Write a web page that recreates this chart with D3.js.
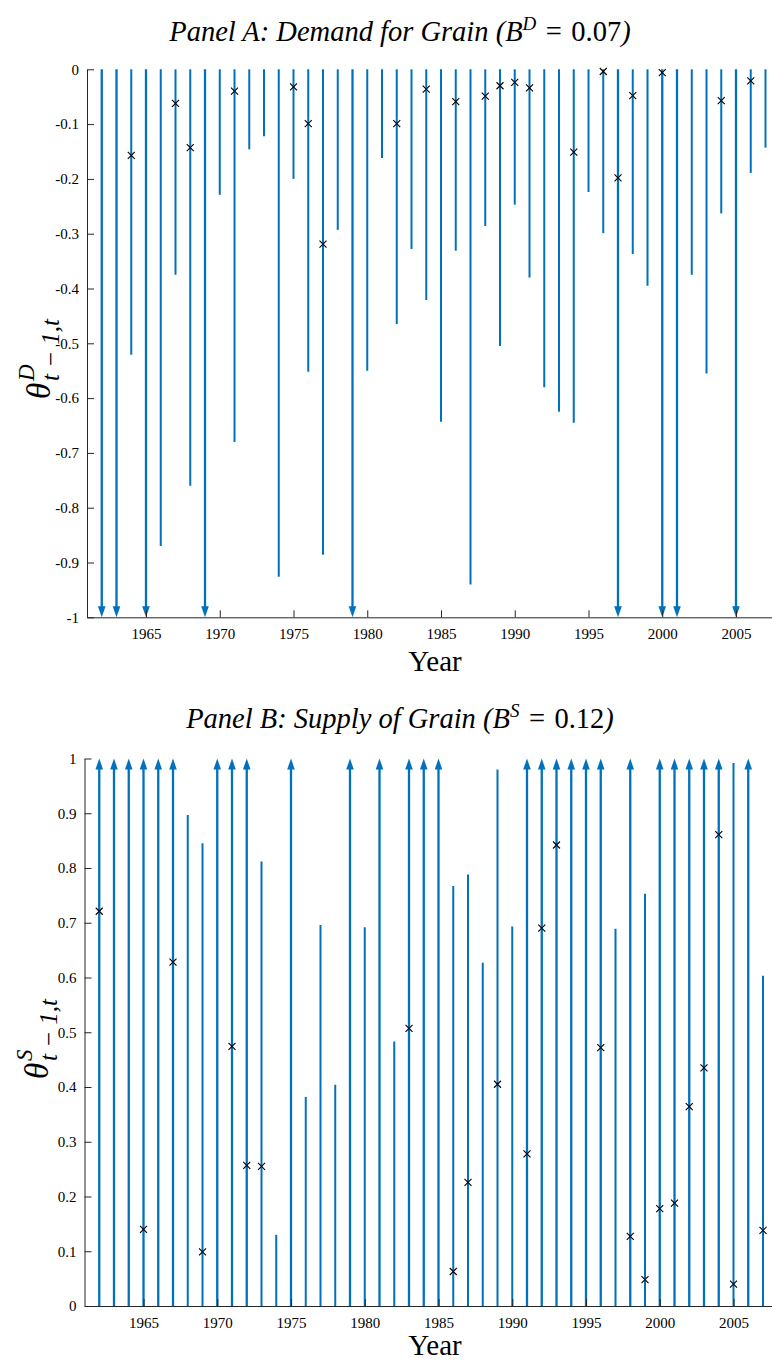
<!DOCTYPE html>
<html>
<head>
<meta charset="utf-8">
<script src="https://cdn.jsdelivr.net/npm/d3@7"></script>
<style>
  body { margin: 0; background: #fff; }
  text { font-family: "Liberation Serif", "Times New Roman", serif; fill: #000; }
</style>
</head>
<body>
<script>
// years on the x axis
const years = [1962, 1963, 1964, 1965, 1966, 1967, 1968, 1969, 1970, 1971,
               1972, 1973, 1974, 1975, 1976, 1977, 1978, 1979, 1980, 1981,
               1982, 1983, 1984, 1985, 1986, 1987, 1988, 1989, 1990, 1991,
               1992, 1993, 1994, 1995, 1996, 1997, 1998, 1999, 2000, 2001,
               2002, 2003, 2004, 2005, 2006, 2007];

// panel A: lower end of each demand interval (-1 = runs off the axis, drawn as arrow)
const demandLow = [-1, -1, -0.521, -1, -0.87, -0.375, -0.76, -1, -0.229, -0.68,
                   -0.146, -0.122, -0.926, -0.2, -0.552, -0.886, -0.293, -1, -0.55, -0.162,
                   -0.465, -0.328, -0.421, -0.643, -0.331, -0.94, -0.286, -0.505, -0.247, -0.38,
                   -0.58, -0.625, -0.645, -0.224, -0.299, -1, -0.337, -0.395, -1, -1,
                   -0.375, -0.555, -0.263, -1, -0.189, -0.143];
// panel A: point estimates (x markers)
const demandEstYears = [1964, 1967, 1968, 1971, 1975, 1976, 1977, 1982, 1984, 1986, 1988,
                        1989, 1990, 1991, 1994, 1996, 1997, 1998, 2000, 2004, 2006];
const demandEst = [-0.157, -0.062, -0.143, -0.040, -0.032, -0.099, -0.319, -0.099, -0.036, -0.059, -0.049,
                   -0.030, -0.024, -0.034, -0.151, -0.004, -0.198, -0.048, -0.006, -0.057, -0.021];

// panel B: upper end of each supply interval (1 = arrow)
const supplyHigh = [1, 1, 1, 1, 1, 1, 0.897, 0.845, 1, 1,
                    1, 0.812, 0.13, 1, 0.382, 0.696, 0.404, 1, 0.692, 1,
                    0.483, 1, 1, 1, 0.767, 0.788, 0.627, 0.98, 0.693, 1,
                    1, 1, 1, 1, 1, 0.689, 1, 0.753, 1, 1,
                    1, 1, 1, 0.992, 1, 0.603];
const supplyEstYears = [1962, 1965, 1967, 1969, 1971, 1972, 1973, 1983, 1986, 1987, 1989, 1991,
                        1992, 1993, 1996, 1998, 1999, 2000, 2001, 2002, 2003, 2004, 2005, 2007];
const supplyEst = [0.721, 0.140, 0.628, 0.099, 0.474, 0.257, 0.255, 0.507, 0.063, 0.226, 0.405, 0.278,
                   0.690, 0.842, 0.472, 0.127, 0.048, 0.178, 0.188, 0.364, 0.435, 0.861, 0.040, 0.138];

const yearTicks = [1965, 1970, 1975, 1980, 1985, 1990, 1995, 2000, 2005];
const demandTicks = [0, -0.1, -0.2, -0.3, -0.4, -0.5, -0.6, -0.7, -0.8, -0.9, -1];
const supplyTicks = [0, 0.1, 0.2, 0.3, 0.4, 0.5, 0.6, 0.7, 0.8, 0.9, 1];

const blue = "#0072BD";
const axisColor = "#262626";

const svg = d3.select("body").append("svg")
    .attr("width", 772)
    .attr("height", 1361);

function drawPanel(p) {
  const g = svg.append("g");
  const x = d3.scaleLinear().domain([1961, 2008]).range([p.left, p.left + 47 * 14.75]);
  const y = d3.scaleLinear().domain(p.yDomain).range(p.yRange);
  const dir = p.sign; // -1: arrows point down, 1: arrows point up
  const headLen = 11;

  // intervals
  years.forEach(function(yr, i) {
    const v = p.bounds[i];
    const hitsEdge = Math.abs(v) >= 1;
    const xx = x(yr);
    const yEnd = y(v);
    g.append("line")
      .attr("x1", xx).attr("x2", xx)
      .attr("y1", y(0))
      .attr("y2", hitsEdge ? yEnd + dir * (headLen - 2) : yEnd)
      .attr("stroke", blue)
      .attr("stroke-width", hitsEdge ? 2.3 : 2);
    if (hitsEdge) {
      g.append("path")
        .attr("d", "M" + xx + "," + yEnd +
                   "L" + (xx - 3.8) + "," + (yEnd + dir * headLen) +
                   "L" + (xx + 3.8) + "," + (yEnd + dir * headLen) + "Z")
        .attr("fill", blue);
    }
  });

  // point estimates
  g.selectAll(".est")
    .data(p.estYears)
    .enter().append("path")
    .attr("class", "est")
    .attr("transform", function(d, i) { return "translate(" + x(d) + "," + y(p.est[i]) + ")"; })
    .attr("d", "M-3.5,-3.5L3.5,3.5M-3.5,3.5L3.5,-3.5")
    .attr("stroke", "#000")
    .attr("stroke-width", 1.1);

  // axes
  const xAxis = d3.axisBottom(x).tickValues(yearTicks).tickFormat(d3.format("d"))
    .tickSize(-7).tickSizeOuter(0).tickPadding(11);
  const gx = g.append("g").attr("transform", "translate(0," + p.yRange[0] + ")").call(xAxis);

  const yAxis = d3.axisLeft(y).tickValues(p.ticks)
    .tickFormat(function(d) { return d === 0 ? "0" : String(d); })
    .tickSize(-7).tickSizeOuter(0).tickPadding(8);
  const gy = g.append("g").attr("transform", "translate(" + p.left + ",0)").call(yAxis);

  [gx, gy].forEach(function(a) {
    a.select(".domain").attr("stroke", axisColor);
    a.selectAll(".tick line").attr("stroke", axisColor);
    a.selectAll(".tick text")
      .style("font-family", "'Liberation Serif', 'Times New Roman', serif")
      .style("font-size", "15px")
      .attr("fill", "#1a1a1a");
  });

  // title
  const t = g.append("text")
    .attr("x", 400).attr("y", p.titleY)
    .attr("text-anchor", "middle")
    .style("font-size", "28.5px");
  t.append("tspan").style("font-style", "italic").text(p.titleText + " (B");
  t.append("tspan").style("font-style", "italic").style("font-size", "19px")
    .attr("dy", -11).text(p.sup);
  t.append("tspan").attr("dy", 11).text("\u2004=\u2004" + p.param);
  t.append("tspan").style("font-style", "italic").text(")");

  // x label
  g.append("text")
    .attr("x", 435).attr("y", p.yearY)
    .attr("text-anchor", "middle")
    .style("font-size", "29px")
    .text("Year");

  // y label: theta with stacked super/subscript
  const yl = g.append("g")
    .attr("transform", "translate(" + p.ylabelX + "," + p.ylabelY + ") rotate(-90)");
  yl.append("text").attr("x", -54).attr("y", 10)
    .style("font-size", "33px").style("font-style", "italic").text("\u03B8");
  yl.append("text").attr("x", -36).attr("y", -6)
    .style("font-size", "23px").style("font-style", "italic").text(p.sup);
  yl.append("text").attr("x", -36).attr("y", 19)
    .style("font-size", "25px").style("font-style", "italic").text("t\u2005\u2212\u20051,t");
}

drawPanel({
  left: 87,
  yDomain: [-1, 0], yRange: [617.3, 69.3],
  sign: -1,
  bounds: demandLow,
  estYears: demandEstYears, est: demandEst,
  ticks: demandTicks,
  titleText: "Panel A: Demand for Grain", sup: "D", param: "0.07", titleY: 41,
  yearY: 671,
  ylabelX: 40, ylabelY: 345
});

drawPanel({
  left: 84.5,
  yDomain: [0, 1], yRange: [1306, 758.5],
  sign: 1,
  bounds: supplyHigh,
  estYears: supplyEstYears, est: supplyEst,
  ticks: supplyTicks,
  titleText: "Panel B: Supply of Grain", sup: "S", param: "0.12", titleY: 728,
  yearY: 1355,
  ylabelX: 38, ylabelY: 1025
});
</script>
</body>
</html>
